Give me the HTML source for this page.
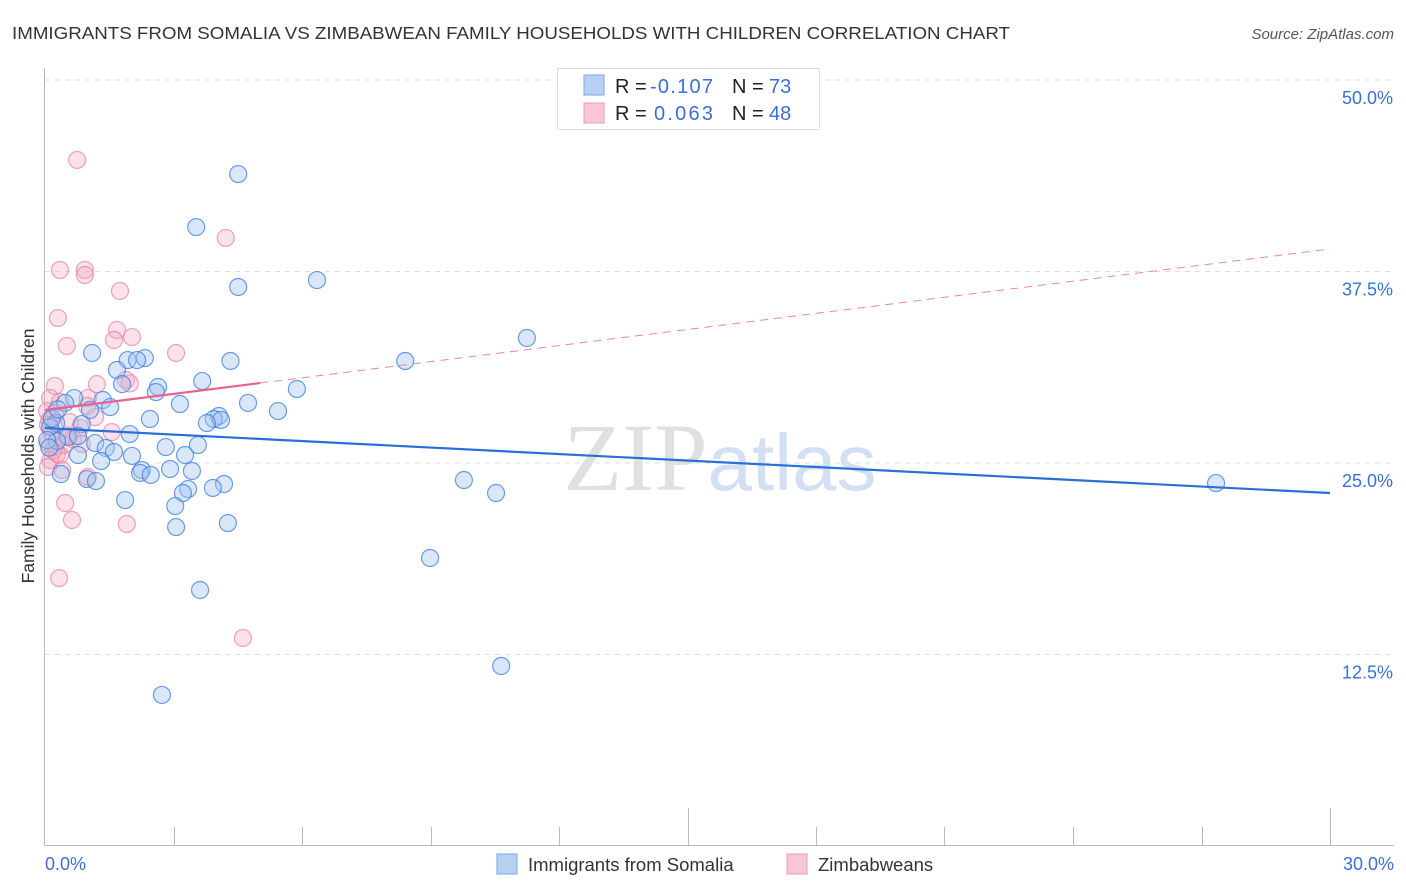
<!DOCTYPE html>
<html><head><meta charset="utf-8"><style>
body{margin:0;background:#fff;font-family:"Liberation Sans",sans-serif;}
svg{display:block}
</style></head><body>
<svg width="1406" height="892" id="chart">
<text x="12" y="39" font-size="17.5" fill="#333" textLength="998" lengthAdjust="spacingAndGlyphs">IMMIGRANTS FROM SOMALIA VS ZIMBABWEAN FAMILY HOUSEHOLDS WITH CHILDREN CORRELATION CHART</text>
<text x="1394" y="39" font-size="15" fill="#555" font-style="italic" text-anchor="end">Source: ZipAtlas.com</text>
<text x="720" y="490" font-size="96" text-anchor="middle"><tspan fill="#e0e0e0" font-family="Liberation Serif,serif">ZIP</tspan><tspan fill="#d3e0f4" font-size="80">atlas</tspan></text>
<text transform="translate(34,456) rotate(-90)" font-size="17.5" fill="#333" text-anchor="middle">Family Households with Children</text>
<g id="grid"></g><g id="axes"></g><g id="pts"></g><g id="lines"></g>
<g>
<rect x="557.5" y="68.5" width="262" height="61" fill="#fff" stroke="#ddd"/>
<rect x="584" y="75" width="20" height="20" fill="#b8d0f4" stroke="#7aa6e8"/>
<rect x="584" y="103" width="20" height="20" fill="#f8c6d6" stroke="#ee9ab5"/>
<text y="93" font-size="20" fill="#222"><tspan x="615">R = </tspan><tspan x="650" fill="#3a70d4" textLength="63">-0.107</tspan><tspan x="732">N = </tspan><tspan x="769" fill="#3a70d4">73</tspan></text>
<text y="120" font-size="20" fill="#222"><tspan x="615">R = </tspan><tspan x="654" fill="#3a70d4" textLength="59">0.063</tspan><tspan x="732">N = </tspan><tspan x="769" fill="#3a70d4">48</tspan></text>
</g>
<g>
<rect x="497" y="854" width="20" height="20" fill="#b8d0f4" stroke="#7aa6e8"/>
<text x="528" y="871" font-size="18.5" fill="#333">Immigrants from Somalia</text>
<rect x="787" y="854" width="20" height="20" fill="#f8c6d6" stroke="#ee9ab5"/>
<text x="818" y="871" font-size="18.5" fill="#333">Zimbabweans</text>
</g>
</svg>
<script>
const yTicks=[12.5,25,37.5,50];
const yTickLabels=["12.5%","25.0%","37.5%","50.0%"];
const xTickLabels=["0.0%","30.0%"];
const somaliaX=[4.51,3.53,4.51,6.35,11.25,1.10,2.33,1.93,2.15,4.33,8.41,1.68,3.67,1.80,2.64,2.59,5.88,0.68,1.35,0.47,1.52,4.74,3.15,1.05,5.44,2.45,4.06,3.94,4.11,3.78,0.26,0.86,0.12,1.98,0.54,0.77,0.28,1.17,2.82,3.57,1.42,1.61,0.77,2.03,3.27,1.31,2.26,2.22,2.92,3.43,0.37,0.98,1.19,2.47,9.78,4.18,3.34,3.22,3.92,10.53,27.34,1.87,3.04,4.27,3.06,8.99,3.62,10.65,2.73,0.05,0.16,0.30,0.10];
const somaliaY=[43.86,40.40,36.49,36.94,33.16,32.18,31.85,31.72,31.72,31.66,31.66,31.07,30.35,30.15,29.96,29.63,29.83,29.24,29.11,28.92,28.65,28.92,28.85,28.46,28.39,27.87,28.07,27.87,27.81,27.61,27.61,27.54,27.35,26.89,26.70,26.76,26.43,26.30,26.04,26.17,25.98,25.72,25.52,25.46,25.52,25.13,24.54,24.35,24.61,24.48,24.28,23.95,23.82,24.22,23.89,23.63,23.30,23.04,23.37,23.04,23.69,22.58,22.19,21.08,20.82,18.80,16.71,11.75,9.86,26.5,27.9,28.5,26.0];
const zimX=[0.75,4.22,0.35,0.93,0.93,1.75,0.30,1.68,2.03,1.61,0.51,3.06,1.89,1.21,0.23,1.00,0.12,0.35,0.98,0.05,0.23,1.17,0.58,0.07,0.82,1.56,0.40,0.65,0.07,0.23,0.86,0.35,0.12,0.07,0.40,1.00,0.47,0.63,1.91,0.33,4.62,1.98,0.15,0.50,0.20,0.10,0.45,0.28];
const zimY=[44.78,39.69,37.60,37.60,37.27,36.23,34.46,33.68,33.22,33.03,32.64,32.18,30.42,30.15,30.03,29.24,29.24,28.98,28.72,28.39,28.26,28.00,27.67,27.48,27.28,27.02,26.70,26.56,26.30,26.04,26.24,25.52,25.19,24.74,24.54,24.09,22.39,21.28,21.02,17.49,13.58,30.2,27.0,26.8,25.8,27.8,26.2,25.6];
const somaliaTrend=[27.28,23.04];
const zimTrend=[28.46,38.97];
const zimSolidEnd=5.02;
const X0=45,X1=1330,Y0=846,Yscale=191.5/12.5;
const xs=v=>X0+(v/30)*(X1-X0);
const ys=v=>Y0-v*Yscale;
const NS="http://www.w3.org/2000/svg";
function mk(t,a,p){const e=document.createElementNS(NS,t);for(const k in a)e.setAttribute(k,a[k]);p.appendChild(e);return e;}
const grid=document.getElementById('grid'),axes=document.getElementById('axes'),pts=document.getElementById('pts'),lines=document.getElementById('lines');
yTicks.forEach((t,i)=>{
 const l=mk('line',{x1:45,x2:1394,y1:ys(t),y2:ys(t),stroke:'#ddd','stroke-dasharray':'5,5'},grid);
 
 
 const tx=mk('text',{x:1393,y:ys(t)+24,'font-size':18,fill:'#3a70d4','text-anchor':'end'},grid);
 tx.textContent=yTickLabels[i];
 
 
});
let a=mk('line',{x1:44.5,x2:44.5,y1:68,y2:845,stroke:'#bbb'},axes);


a=mk('line',{x1:44,x2:1394,y1:845.5,y2:845.5,stroke:'#bbb'},axes);


for(let i=1;i<=10;i++){
 const x=Math.round(xs(i*3))+0.5;
 const tk=mk('line',{x1:x,x2:x,y1:(i==5||i==10)?808:827,y2:845,stroke:'#bbb'},axes);
 
 
}
[[0,45,'start'],[30,1394,'end']].forEach((d,i)=>{
 const tx=mk('text',{x:d[1],y:870,'font-size':18,fill:'#3a70d4','text-anchor':d[2]},axes);
 tx.textContent=xTickLabels[i];
 
 
});
zimX.forEach((v,i)=>{
 const c=mk('circle',{cx:xs(v),cy:ys(zimY[i]),r:8.5,fill:'rgba(244,170,195,0.35)',stroke:'rgba(236,130,165,0.75)','stroke-width':1.2},pts);
 
 
});
somaliaX.forEach((v,i)=>{
 const c=mk('circle',{cx:xs(v),cy:ys(somaliaY[i]),r:8.5,fill:'rgba(160,195,240,0.4)',stroke:'rgba(60,125,220,0.75)','stroke-width':1.2},pts);
 
 
});
let t=mk('line',{x1:xs(0),y1:ys(somaliaTrend[0]),x2:xs(30),y2:ys(somaliaTrend[1]),stroke:'#2a6fd6','stroke-width':2.2},lines);


const zy=v=>zimTrend[0]+(zimTrend[1]-zimTrend[0])*v/30;
t=mk('line',{x1:xs(zimSolidEnd),y1:ys(zy(zimSolidEnd)),x2:xs(30),y2:ys(zimTrend[1]),stroke:'#ec82a5','stroke-width':1,'stroke-dasharray':'8,6'},lines);


t=mk('line',{x1:xs(0),y1:ys(zimTrend[0]),x2:xs(zimSolidEnd),y2:ys(zy(zimSolidEnd)),stroke:'#e8608e','stroke-width':2.2},lines);


</script>
</body></html>
